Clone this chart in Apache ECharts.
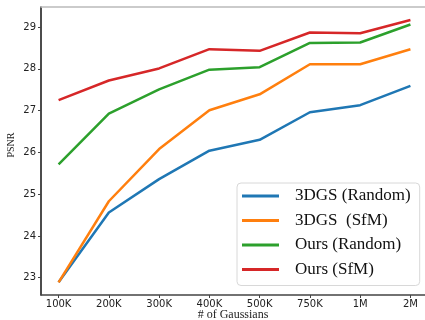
<!DOCTYPE html>
<html><head><meta charset="utf-8">
<script src="https://cdn.jsdelivr.net/npm/echarts@6/dist/echarts.min.js"></script>
<style>html,body{margin:0;padding:0;background:#fff}#c{width:425px;height:320px}</style>
</head><body><div id="c"></div>
<script>
const categories = ['100K','200K','300K','400K','500K','750K','1M','2M'];
const yTicks = [23,24,25,26,27,28,29];
const seriesNames = ['3DGS (Random)','3DGS  (SfM)','Ours (Random)','Ours (SfM)'];
const gs3dRandom = [22.89,24.56,25.36,26.04,26.30,26.96,27.13,27.59];
const gs3dSfM    = [22.89,24.83,26.08,27.01,27.39,28.11,28.11,28.47];
const oursRandom = [25.71,26.93,27.51,27.98,28.04,28.62,28.63,29.06];
const oursSfM    = [27.25,27.72,28.01,28.47,28.43,28.87,28.85,29.17];
const colors = ['#1f77b4','#ff7f0e','#2ca02c','#d62728'];
const allData = [gs3dRandom, gs3dSfM, oursRandom, oursSfM];
const xIdx = categories.map((c,i)=>i);

const chart = echarts.init(document.getElementById('c'), null, {renderer:'canvas'});
chart.setOption({
  animation:false,
  backgroundColor:'#fff',
  grid:{left:41, right:0, top:7, bottom:25, containLabel:false, outerBoundsMode:'none'},
  xAxis:[{
    type:'value', min:-0.35, max:7.29,
    splitLine:{show:false},
    axisLine:{show:true, onZero:false, lineStyle:{color:'#444', width:1.5}},
    axisTick:{show:true, length:3, customValues:xIdx, lineStyle:{color:'#444'}},
    axisLabel:{customValues:xIdx, formatter:v=>categories[Math.round(v)], color:'#222',
      fontFamily:'DejaVu Sans', fontSize:10, margin:4, showMinLabel:true, showMaxLabel:true},
    name:'# of Gaussians', nameLocation:'middle', nameGap:14, nameMoveOverlap:false,
    nameTextStyle:{fontFamily:'Liberation Serif', fontSize:12, color:'#222'}
  },{
    type:'value', position:'top', min:-0.35, max:7.29,
    splitLine:{show:false}, axisTick:{show:false}, axisLabel:{show:false},
    axisLine:{show:true, onZero:false, lineStyle:{color:'#bbb', width:1.5}}
  }],
  yAxis:{
    type:'value', min:22.586, max:29.48,
    splitLine:{show:false},
    axisLine:{show:true, onZero:false, lineStyle:{color:'#111', width:1.5}},
    axisTick:{show:true, length:3, customValues:yTicks, lineStyle:{color:'#444'}},
    axisLabel:{customValues:yTicks, color:'#222', fontFamily:'DejaVu Sans', fontSize:10, margin:5},
    name:'PSNR', nameLocation:'middle', nameGap:25, nameMoveOverlap:false,
    nameTextStyle:{fontFamily:'Liberation Serif', fontSize:10, color:'#222', padding:[0,0,0,12]}
  },
  legend:{
    orient:'vertical', left:237, top:183,
    padding:[4,9,7,5], itemWidth:37, itemHeight:3, itemGap:6.5, icon:'rect',
    borderColor:'#d8d8d8', borderWidth:1, borderRadius:4, backgroundColor:'#fff',
    textStyle:{fontFamily:'Liberation Serif', fontSize:17, color:'#111', lineHeight:18, padding:[0,0,0,11]},
    data:seriesNames
  },
  series: allData.map((d,k)=>({
    name:seriesNames[k], type:'line', symbol:'none',
    data:d.map((v,i)=>[xIdx[i], v]),
    lineStyle:{color:colors[k], width:2.5},
    itemStyle:{color:colors[k]}
  }))
});
</script></body></html>
